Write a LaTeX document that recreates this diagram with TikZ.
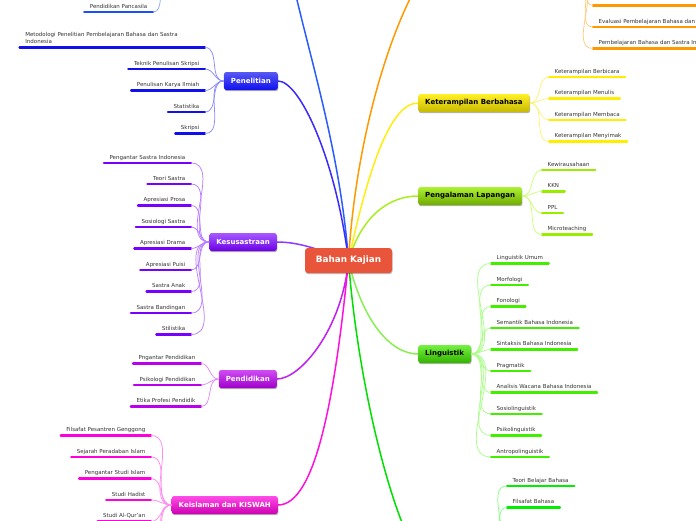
\documentclass[tikz,border=0pt]{standalone}
\usepackage{fontspec}
\setmainfont{DejaVu Sans}
\usetikzlibrary{shadows,backgrounds}
\pgfdeclarelayer{paper}
\pgfsetlayers{paper,background,main}
\definecolor{leaftxt}{HTML}{333333}
\definecolor{cBK}{HTML}{E8553B}
% branch colours: U = underline, P = pale curve, C = main connector
\definecolor{penU}{HTML}{1010EE}\definecolor{penP}{HTML}{8C8CFF}\definecolor{penC}{HTML}{3A2AFF}
\definecolor{pncU}{HTML}{1A4FFF}\definecolor{pncP}{HTML}{8FA8FF}\definecolor{pncC}{HTML}{2A5CFF}
\definecolor{kesU}{HTML}{7700FF}\definecolor{kesP}{HTML}{BB80FF}\definecolor{kesC}{HTML}{8A3CFF}
\definecolor{pdkU}{HTML}{BB00EE}\definecolor{pdkP}{HTML}{E28CFF}\definecolor{pdkC}{HTML}{C020F0}
\definecolor{kslU}{HTML}{FF00DD}\definecolor{kslP}{HTML}{FF8CEE}\definecolor{kslC}{HTML}{FF10DD}
\definecolor{ketU}{HTML}{FFEE00}\definecolor{ketP}{HTML}{FFF27A}\definecolor{ketC}{HTML}{FFEE10}
\definecolor{pglU}{HTML}{99EE00}\definecolor{pglP}{HTML}{CCFF77}\definecolor{pglC}{HTML}{AAEE22}
\definecolor{lngU}{HTML}{44EE00}\definecolor{lngP}{HTML}{AAFF88}\definecolor{lngC}{HTML}{88EE55}
\definecolor{btmU}{HTML}{00EE00}\definecolor{btmP}{HTML}{88FF88}\definecolor{btmC}{HTML}{00E000}
\definecolor{orgU}{HTML}{FF9900}\definecolor{orgP}{HTML}{FFCC80}\definecolor{orgC}{HTML}{FF9900}
\tikzset{
  branch/.style={rounded corners=2.5pt, minimum height=18pt, inner xsep=7pt, inner ysep=0pt,
    font=\fontsize{7}{8}\selectfont\bfseries,
    drop shadow={shadow xshift=0.5pt, shadow yshift=-1.2pt, opacity=0.3, fill=black}},
  centre/.style={rounded corners=3pt, fill=cBK, minimum height=25pt, minimum width=87pt,
    inner xsep=8pt, text=white, font=\fontsize{8.8}{10}\selectfont\bfseries,
    drop shadow={shadow xshift=0.5pt, shadow yshift=-1.2pt, opacity=0.25, fill=black}},
  leaf/.style={inner xsep=5.5pt, inner ysep=2.3pt, text height=4pt, text depth=1.5pt,
    font=\fontsize{5.5}{7}\selectfont, text=leaftxt},
  leafL/.style={leaf, anchor=south east},
  leafR/.style={leaf, anchor=south west},
  uline/.style={line width=2.3pt, line cap=round},
  lcurve/.style={line width=0.75pt},
  mconn/.style={line width=1.5pt},
}
\newcommand\LeafL[4]{\node[leafL] (#1) at (#2) {#3};\draw[uline,#4] (#1.south west) -- (#1.south east);}
\newcommand\LeafR[4]{\node[leafR] (#1) at (#2) {#3};\draw[uline,#4] (#1.south west) -- (#1.south east);}
\begin{document}
\begin{tikzpicture}[x=1pt,y=-1pt]
\useasboundingbox (0,0) rectangle (696,520);
\begin{pgfonlayer}{paper}
\fill[white] (0,0) rectangle (696,520);
\end{pgfonlayer}

% centre
\node[centre] (bk) at (348.5,260.5) {Bahan Kajian};

% branches
\node[branch, anchor=east, top color=penU!70!white, bottom color=penU, text=white] (pen) at (278,81) {Penelitian};
\node[branch, anchor=east, top color=kesU!65!white, bottom color=kesU!90!black, text=white] (kes) at (277,242) {Kesusastraan};
\node[branch, anchor=east, top color=pdkU!70!white, bottom color=pdkU!85!black, text=white] (pdk) at (277,379) {Pendidikan};
\node[branch, anchor=east, top color=kslU!70!white, bottom color=kslU!80!black, text=white] (ksl) at (278,505) {Keislaman dan KISWAH};
\node[branch, anchor=west, top color=ketU!85!white, bottom color=ketU!78!black, text=black] (ket) at (418,103) {Keterampilan Berbahasa};
\node[branch, anchor=west, top color=pglU!80!white, bottom color=pglU!72!black, text=black] (pgl) at (418,196) {Pengalaman Lapangan};
\node[branch, anchor=west, top color=lngU!75!white, bottom color=lngU!75!black, text=black] (lng) at (418,354) {Linguistik};

% off-canvas parents
\coordinate (pnc) at (168,-14);
\coordinate (org) at (578,-16);
\coordinate (btm) at (492,545);
\coordinate (orgtop) at (420,-20);
\coordinate (pnctop) at (290,-30);
\coordinate (btmtop) at (405,530);

% main connectors (behind boxes)
\begin{pgfonlayer}{background}
\draw[mconn,pncC] (bk.center) .. controls (340,150) and (310,60) .. (pnctop);
\draw[mconn,penC] (bk.center) .. controls (336,160) and (300,81) .. (pen.east);
\draw[mconn,orgC] (bk.center) .. controls (355,150) and (385,40) .. (orgtop);
\draw[mconn,ketC] (bk.center) .. controls (368,170) and (390,103) .. (ket.west);
\draw[mconn,pglC] (bk.center) .. controls (362,215) and (390,196) .. (pgl.west);
\draw[mconn,kesC] (bk.center) .. controls (320,250) and (300,242) .. (kes.east);
\draw[mconn,pdkC] (bk.center) .. controls (342,330) and (300,379) .. (pdk.east);
\draw[mconn,kslC] (bk.center) .. controls (335,400) and (315,505) .. (ksl.east);
\draw[mconn,lngC] (bk.center) .. controls (362,320) and (390,354) .. (lng.west);
\draw[mconn,btmC] (bk.center) .. controls (356,360) and (380,470) .. (btmtop);
\end{pgfonlayer}

% Penelitian leaves
\node[leafL, text width=174pt, align=left, text depth=8.5pt] (met) at (205,47.5) {Metodologi Penelitian Pembelajaran Bahasa dan Sastra\\Indonesia};
\draw[uline,penU] (met.south west) -- (met.south east);
\LeafL{tek}{205,69}{Teknik Penulisan Skripsi}{penU}
\LeafL{pki}{205,90.5}{Penulisan Karya Ilmiah}{penU}
\LeafL{sta}{205,112}{Statistika}{penU}
\LeafL{skr}{205,133.5}{Skripsi}{penU}
\foreach \n in {met,tek,pki,sta,skr} \draw[lcurve,penP] (pen.west) to[out=180,in=0] (\n.south east);

% top blue leaf
\LeafL{pp}{153,12}{Pendidikan Pancasila}{pncU}
\draw[lcurve,pncP] (pnc) to[out=180,in=0] (pp.south east);

% Kesusastraan leaves
\LeafL{k1}{191,163}{Pengantar Sastra Indonesia}{kesU}
\LeafL{k2}{191,184}{Teori Sastra}{kesU}
\LeafL{k3}{191,205.5}{Apresiasi Prosa}{kesU}
\LeafL{k4}{191,227}{Sosiologi Sastra}{kesU}
\LeafL{k5}{191,248.5}{Apresiasi Drama}{kesU}
\LeafL{k6}{191,270}{Apresiasi Puisi}{kesU}
\LeafL{k7}{191,291.5}{Sastra Anak}{kesU}
\LeafL{k8}{191,313}{Sastra Bandingan}{kesU}
\LeafL{k9}{191,334.5}{Stilistika}{kesU}
\foreach \n in {k1,k2,k3,k4,k5,k6,k7,k8,k9} \draw[lcurve,kesP] (kes.west) to[out=180,in=0] (\n.south east);

% Pendidikan leaves
\LeafL{d1}{201,363.5}{Pngantar Pendidikan}{pdkU}
\LeafL{d2}{201,385}{Psikologi Pendidikan}{pdkU}
\LeafL{d3}{201,406.5}{Etika Profesi Pendidik}{pdkU}
\foreach \n in {d1,d2,d3} \draw[lcurve,pdkP] (pdk.west) to[out=180,in=0] (\n.south east);

% Keislaman leaves
\LeafL{i1}{151,435.5}{Filsafat Pesantren Genggong}{kslU}
\LeafL{i2}{151,457}{Sejarah Peradaban Islam}{kslU}
\LeafL{i3}{151,478.5}{Pengantar Studi Islam}{kslU}
\LeafL{i4}{151,500}{Studi Hadist}{kslU}
\LeafL{i5}{151,521.5}{Studi Al-Qur'an}{kslU}
\coordinate (i6) at (151,543);
\coordinate (i7) at (151,564.5);
\foreach \n in {i1,i2,i3,i4,i5} \draw[lcurve,kslP] (ksl.west) to[out=180,in=0] (\n.south east);
\foreach \n in {i6,i7} \draw[lcurve,kslP] (ksl.west) to[out=180,in=0] (\n);

% Keterampilan leaves
\LeafR{t1}{549,77}{Keterampilan Berbicara}{ketU}
\LeafR{t2}{549,98.5}{Keterampilan Menulis}{ketU}
\LeafR{t3}{549,120}{Keterampilan Membaca}{ketU}
\LeafR{t4}{549,141.5}{Keterampilan Menyimak}{ketU}
\foreach \n in {t1,t2,t3,t4} \draw[lcurve,ketP] (ket.east) to[out=0,in=180] (\n.south west);

% Pengalaman leaves
\LeafR{g1}{542,170}{Kewirausahaan}{pglU}
\LeafR{g2}{542,191.5}{KKN}{pglU}
\LeafR{g3}{542,213}{PPL}{pglU}
\LeafR{g4}{542,234.5}{Microteaching}{pglU}
\foreach \n in {g1,g2,g3,g4} \draw[lcurve,pglP] (pgl.east) to[out=0,in=180] (\n.south west);

% Linguistik leaves
\LeafR{l1}{491,263.5}{Linguistik Umum}{lngU}
\LeafR{l2}{491,285}{Morfologi}{lngU}
\LeafR{l3}{491,306.5}{Fonologi}{lngU}
\LeafR{l4}{491,328}{Semantik Bahasa Indonesia}{lngU}
\LeafR{l5}{491,349.5}{Sintaksis Bahasa Indonesia}{lngU}
\LeafR{l6}{491,371}{Pragmatik}{lngU}
\LeafR{l7}{491,392.5}{Analisis Wacana Bahasa Indonesia}{lngU}
\LeafR{l8}{491,414}{Sosiolinguistik}{lngU}
\LeafR{l9}{491,435.5}{Psikolinguistik}{lngU}
\LeafR{l10}{491,457}{Antropolinguistik}{lngU}
\foreach \n in {l1,l2,l3,l4,l5,l6,l7,l8,l9,l10} \draw[lcurve,lngP] (lng.east) to[out=0,in=180] (\n.south west);

% bottom green leaves
\LeafR{b1}{507,486}{Teori Belajar Bahasa}{btmU}
\LeafR{b2}{507,507.5}{Filsafat Bahasa}{btmU}
\coordinate (b3) at (507,529);
\foreach \n in {b1,b2} \draw[lcurve,btmP] (btm) to[out=0,in=180] (\n.south west);
\draw[lcurve,btmP] (btm) to[out=0,in=180] (b3);

% orange leaves
\node[leafR, minimum width=150pt] (o1) at (593,5.5) {};
\draw[uline,orgU] (o1.south west) -- (o1.south east);
\LeafR{o2}{593,27}{Evaluasi Pembelajaran Bahasa dan Sastra Indonesia}{orgU}
\LeafR{o3}{593,48.5}{Pembelajaran Bahasa dan Sastra Indonesia}{orgU}
\foreach \n in {o1,o2,o3} \draw[lcurve,orgP] (org) to[out=0,in=180] (\n.south west);
\end{tikzpicture}
\end{document}
